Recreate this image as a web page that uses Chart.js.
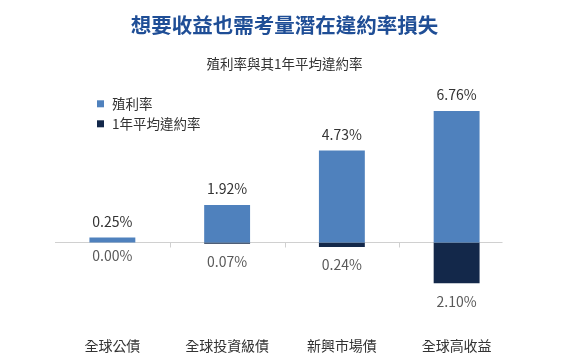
<!DOCTYPE html>
<html lang="zh-Hant">
<head>
<meta charset="utf-8">
<title>想要收益也需考量潛在違約率損失</title>
<script src="https://cdn.jsdelivr.net/npm/chart.js@4/dist/chart.umd.min.js"></script>
<style>
    html, body { margin: 0; padding: 0; background: #fff; }
    #contenedor { width: 570px; height: 362px; }
</style>
</head>
<body>
<div id="contenedor">
    <canvas id="chartRendimiento" width="570" height="362"></canvas>
</div>
<script>
// SECCIÓN 1: DATOS

const categorias = ['全球公債', '全球投資級債', '新興市場債', '全球高收益'];
const nombresSeries = ['殖利率', '1年平均違約率'];
const rendimiento = [0.25, 1.92, 4.73, 6.76];
const incumplimiento = [0.00, 0.07, 0.24, 2.10];

// SECCIÓN 2: COLORES Y FUENTES

const colores = {
    azul: '#4F81BD',
    marino: '#13284A',
    titulo: '#1F4E96',
    texto: '#333333',
    textoClaro: '#595959',
    eje: '#D0D0D0'
};

const fuente = '"Noto Sans CJK TC", "Noto Sans", sans-serif';

// SECCIÓN 3: PLUGINS PROPIOS

// Línea del cero y marcas entre categorías
const pluginEjeCero = {
    id: 'ejeCero',
    beforeDatasetsDraw(chart) {
        const ctx = chart.ctx;
        const x = chart.scales.x;
        const y0 = Math.round(chart.scales.y.getPixelForValue(0)) + 0.5;
        const ancho = x.getPixelForValue(1) - x.getPixelForValue(0);
        ctx.save();
        ctx.strokeStyle = colores.eje;
        ctx.lineWidth = 1;
        ctx.beginPath();
        ctx.moveTo(chart.chartArea.left, y0);
        ctx.lineTo(chart.chartArea.right - ancho * 0.1, y0);
        for (let i = 1; i < categorias.length; i++) {
            const xm = Math.round((x.getPixelForValue(i - 1) + x.getPixelForValue(i)) / 2) + 0.5;
            ctx.moveTo(xm, y0);
            ctx.lineTo(xm, y0 + 5);
        }
        ctx.stroke();
        ctx.restore();
    }
};

// Etiquetas de valor encima y debajo de las barras
const pluginEtiquetas = {
    id: 'etiquetas',
    afterDatasetsDraw(chart) {
        const ctx = chart.ctx;
        ctx.save();
        ctx.font = '14px ' + fuente;
        ctx.textAlign = 'center';
        ctx.textBaseline = 'middle';

        chart.getDatasetMeta(0).data.forEach((barra, i) => {
            ctx.fillStyle = colores.texto;
            ctx.fillText(rendimiento[i].toFixed(2) + '%', barra.x, barra.y - 16);
        });
        chart.getDatasetMeta(1).data.forEach((barra, i) => {
            ctx.fillStyle = colores.textoClaro;
            ctx.fillText(incumplimiento[i].toFixed(2) + '%', barra.x, barra.y + 18);
        });
        ctx.restore();
    }
};

// Leyenda dentro del área del gráfico
const pluginLeyenda = {
    id: 'leyendaInterior',
    afterDraw(chart) {
        const ctx = chart.ctx;
        const area = chart.chartArea;
        ctx.save();
        ctx.font = '13.5px ' + fuente;
        ctx.textBaseline = 'middle';
        chart.data.datasets.forEach((ds, i) => {
            const yc = area.top + 17 + i * 20;
            ctx.fillStyle = ds.backgroundColor;
            ctx.fillRect(area.left + 42, yc - 3.5, 7, 7);
            ctx.fillStyle = colores.texto;
            ctx.fillText(ds.label, area.left + 57, yc);
        });
        ctx.restore();
    }
};

// SECCIÓN 4: GRÁFICO

document.addEventListener('DOMContentLoaded', function() {
    const ctx = document.getElementById('chartRendimiento').getContext('2d');

    new Chart(ctx, {
        type: 'bar',
        data: {
            labels: categorias,
            datasets: [
                {
                    label: nombresSeries[0],
                    data: rendimiento,
                    backgroundColor: colores.azul,
                    borderWidth: 0
                },
                {
                    label: nombresSeries[1],
                    data: incumplimiento.map(v => -v),
                    backgroundColor: colores.marino,
                    borderWidth: 0
                }
            ]
        },
        options: {
            responsive: false,
            animation: false,
            layout: {
                // el eje x reserva el doble del padding de los ticks
                padding: { left: 55, right: 56, top: 0, bottom: -9 }
            },
            datasets: {
                bar: {
                    categoryPercentage: 1,
                    barPercentage: 0.4
                }
            },
            plugins: {
                legend: { display: false },
                tooltip: { enabled: false },
                title: {
                    display: true,
                    text: '想要收益也需考量潛在違約率損失',
                    color: colores.titulo,
                    font: { family: fuente, size: 20.5, weight: 'bold' },
                    padding: { top: 13, bottom: 0 }
                },
                subtitle: {
                    display: true,
                    text: '殖利率與其1年平均違約率',
                    color: colores.texto,
                    font: { family: fuente, size: 13.5 },
                    padding: { top: 18, bottom: 15 }
                }
            },
            scales: {
                x: {
                    stacked: true,
                    grid: { display: false, drawTicks: false },
                    border: { display: false },
                    ticks: {
                        color: colores.texto,
                        padding: 17,
                        font: { family: fuente, size: 14 }
                    }
                },
                y: {
                    stacked: true,
                    display: false,
                    min: -4,
                    max: 8
                }
            }
        },
        plugins: [pluginEjeCero, pluginEtiquetas, pluginLeyenda]
    });
});
</script>
</body>
</html>
